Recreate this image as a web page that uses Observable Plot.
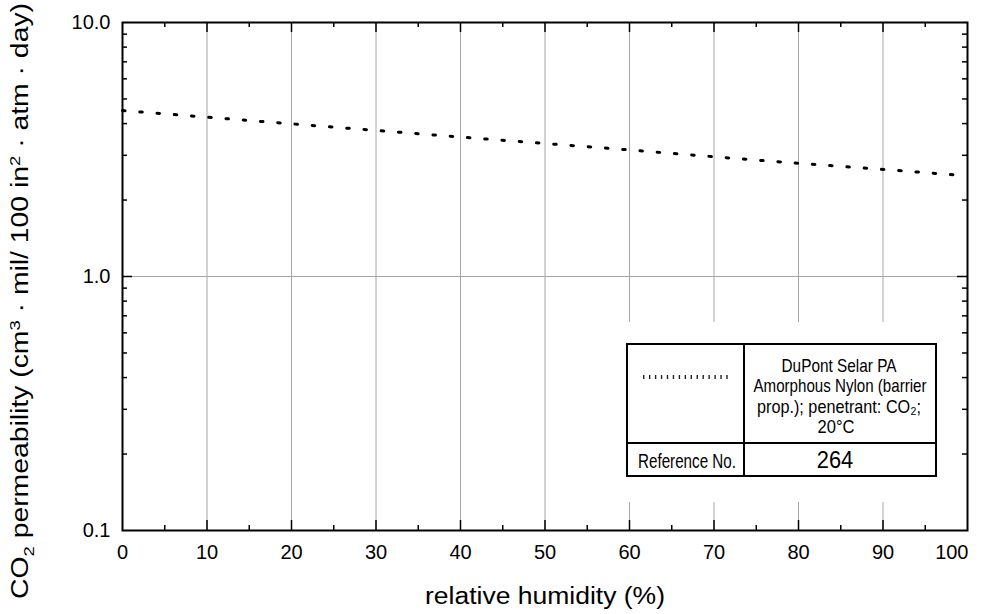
<!DOCTYPE html>
<html>
<head>
<meta charset="utf-8">
<script src="https://cdn.jsdelivr.net/npm/d3@7"></script>
<script src="https://cdn.jsdelivr.net/npm/@observablehq/plot@0.6"></script>
<style>
  html, body { margin: 0; padding: 0; background: white; }
  #chart { width: 989px; height: 614px; }
</style>
</head>
<body>
<div id="chart"></div>
<script>
// ---- data ----
const humidity = [0, 10, 20, 30, 40, 50, 60, 70, 80, 90, 100];
const permeability = [4.50, 4.24, 3.99, 3.76, 3.54, 3.34, 3.15, 2.96, 2.79, 2.64, 2.49];
const xTicks = [0, 10, 20, 30, 40, 50, 60, 70, 80, 90, 100];
const xGrid = [10, 20, 30, 40, 50, 60, 70, 80, 90];
const xMinor = [5, 15, 25, 35, 45, 55, 65, 75, 85, 95];
const yTicks = [0.1, 1, 10];
const yTickLabels = ["0.1", "1.0", "10.0"];
const yMinor = [0.2, 0.3, 0.4, 0.5, 0.6, 0.7, 0.8, 0.9, 2, 3, 4, 5, 6, 7, 8, 9];
const legendLines = ["DuPont Selar PA", "Amorphous Nylon (barrier", "prop.); penetrant: CO\u2082;", "20\u00B0C"];
const legendRef = "264";

const data = humidity.map((h, i) => ({rh: h, perm: permeability[i]}));

const W = 989, H = 614, mL = 122, mR = 22, mT = 22, mB = 84;
const fw = W - mL - mR, fh = H - mT - mB;

const chart = Plot.plot({
  width: W, height: H,
  marginLeft: mL, marginRight: mR, marginTop: mT, marginBottom: mB,
  style: {fontFamily: "'Liberation Sans', Arial, sans-serif", background: "white", color: "black", fontSize: "20px"},
  x: {domain: [0, 100]},
  y: {type: "log", domain: [0.1, 10]},
  marks: [
    Plot.ruleX(xGrid, {x: d => d, stroke: "#a6a6a6", strokeWidth: 1}),
    Plot.ruleY([1], {y: d => d, stroke: "#a6a6a6", strokeWidth: 1}),
    // ticks drawn inside the frame
    Plot.tickX(xGrid, {x: d => d, insetTop: fh - 10, stroke: "black", strokeWidth: 1.5}),
    Plot.tickX(xGrid, {x: d => d, insetBottom: fh - 10, stroke: "black", strokeWidth: 1.5}),
    Plot.tickX(xMinor, {x: d => d, insetTop: fh - 5, stroke: "black", strokeWidth: 1.5}),
    Plot.tickX(xMinor, {x: d => d, insetBottom: fh - 5, stroke: "black", strokeWidth: 1.5}),
    Plot.tickY([1], {y: d => d, insetRight: fw - 10, stroke: "black", strokeWidth: 1.5}),
    Plot.tickY([1], {y: d => d, insetLeft: fw - 10, stroke: "black", strokeWidth: 1.5}),
    Plot.tickY(yMinor, {y: d => d, insetRight: fw - 5, stroke: "black", strokeWidth: 1.5}),
    Plot.tickY(yMinor, {y: d => d, insetLeft: fw - 5, stroke: "black", strokeWidth: 1.5}),
    Plot.axisX({ticks: xTicks.slice(0, -1), tickSize: 0, tickPadding: 14, fontSize: 20, label: null}),
    Plot.axisX({ticks: xTicks.slice(-1), tickSize: 0, tickPadding: 14, fontSize: 20, label: null,
      textAnchor: "end", dx: 1}),
    Plot.axisY({ticks: yTicks, tickSize: 0, tickPadding: 12, fontSize: 20, label: null,
      tickFormat: d => yTickLabels[yTicks.indexOf(d)]}),
    Plot.line(data, {x: "rh", y: "perm", stroke: "black", strokeWidth: 3,
      strokeDasharray: "2.5 14.8", strokeLinecap: "round"}),
    Plot.frame({stroke: "black", strokeWidth: 2})
  ]
});

document.getElementById("chart").appendChild(chart);

const svg = d3.select(chart);

// axis labels
svg.append("text")
  .attr("x", 545).attr("y", 604)
  .attr("text-anchor", "middle")
  .attr("font-size", 23)
  .attr("fill", "black")
  .attr("textLength", 240).attr("lengthAdjust", "spacingAndGlyphs")
  .text("relative humidity (%)");

const yl = svg.append("text")
  .attr("transform", "translate(28,301) rotate(-90)")
  .attr("text-anchor", "middle")
  .attr("font-size", 23)
  .attr("fill", "black")
  .attr("textLength", 596).attr("lengthAdjust", "spacingAndGlyphs");
yl.append("tspan").text("CO");
yl.append("tspan").attr("dy", 6).attr("font-size", 15).text("2");
yl.append("tspan").attr("dy", -6).text(" permeability (cm");
yl.append("tspan").attr("dy", -8).attr("font-size", 15).text("3");
yl.append("tspan").attr("dy", 8).text(" \u00B7 mil/ 100 in");
yl.append("tspan").attr("dy", -8).attr("font-size", 15).text("2");
yl.append("tspan").attr("dy", 8).text(" \u00B7 atm \u00B7 day)");

// legend
const lg = svg.append("g");
lg.append("rect").attr("x", 605).attr("y", 322).attr("width", 354).attr("height", 180).attr("fill", "white");
lg.append("rect").attr("x", 627).attr("y", 344).attr("width", 309).attr("height", 132)
  .attr("fill", "white").attr("stroke", "black").attr("stroke-width", 2);
lg.append("line").attr("x1", 744).attr("x2", 744).attr("y1", 344).attr("y2", 476).attr("stroke", "black").attr("stroke-width", 2);
lg.append("line").attr("x1", 627).attr("x2", 936).attr("y1", 443).attr("y2", 443).attr("stroke", "black").attr("stroke-width", 2);
lg.append("line").attr("x1", 643).attr("x2", 728).attr("y1", 377).attr("y2", 377)
  .attr("stroke", "#222").attr("stroke-width", 4).attr("stroke-dasharray", "1.4 4.55");
const lf = "'Liberation Sans', Arial, sans-serif";
const legendWidths = [115, 173, 164, 37];
const legendCx = [839, 840, 839, 836];
legendLines.forEach((t, i) => {
  lg.append("text").attr("x", legendCx[i]).attr("y", 372 + i * 20.3)
    .attr("text-anchor", "middle").attr("font-size", 18.5).attr("font-family", lf)
    .attr("textLength", legendWidths[i]).attr("lengthAdjust", "spacingAndGlyphs")
    .attr("fill", "black").text(t);
});
lg.append("text").attr("x", 687).attr("y", 468).attr("text-anchor", "middle")
  .attr("font-size", 21).attr("font-family", lf)
  .attr("textLength", 98).attr("lengthAdjust", "spacingAndGlyphs")
  .attr("fill", "black").text("Reference No.");
lg.append("text").attr("x", 835).attr("y", 468).attr("text-anchor", "middle")
  .attr("font-size", 23.5).attr("font-family", lf)
  .attr("textLength", 36.5).attr("lengthAdjust", "spacingAndGlyphs")
  .attr("fill", "black").text(legendRef);
</script>
</body>
</html>
